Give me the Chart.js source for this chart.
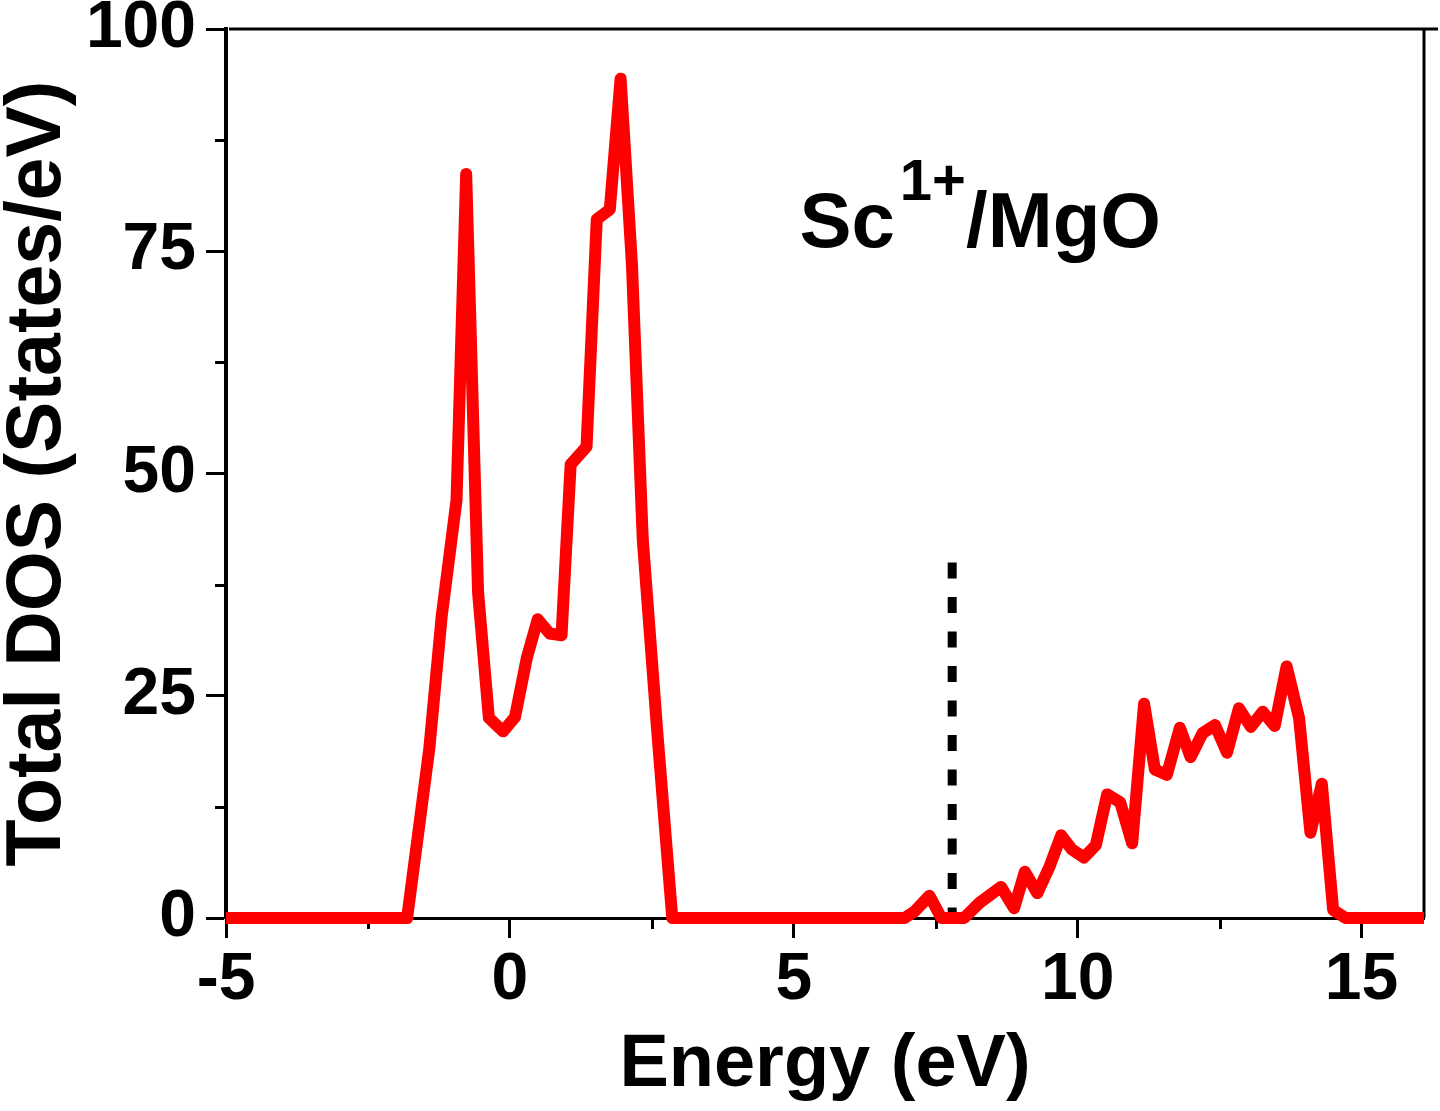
<!DOCTYPE html>
<html>
<head>
<meta charset="utf-8">
<title>Sc1+/MgO total DOS</title>
<script src="https://cdn.jsdelivr.net/npm/chart.js@4.4.1/dist/chart.umd.min.js"></script>
<style>
    html, body { margin: 0; padding: 0; background: #fff; }
    #dosChart { display: block; }
</style>
</head>
<body>
<canvas id="dosChart" width="1440" height="1111"></canvas>
<script>
// Total DOS curve (energy in eV, DOS in states/eV)
const dosEnergy = [-5, -1.81, -1.42, -1.2, -0.94, -0.77, -0.56, -0.37, -0.12, 0.09,
    0.30, 0.49, 0.70, 0.91, 1.07, 1.35, 1.53, 1.76, 1.95, 2.15,
    2.34, 2.6, 2.86, 6.95, 7.12, 7.39, 7.6, 8.0, 8.27, 8.65,
    8.88, 9.07, 9.29, 9.5, 9.71, 9.9, 10.11, 10.32, 10.52, 10.75,
    10.96, 11.17, 11.36, 11.57, 11.8, 11.99, 12.2, 12.42, 12.63, 12.84,
    13.05, 13.26, 13.47, 13.68, 13.9, 14.1, 14.3, 14.5, 14.72, 16.1];
const dosTotal = [0, 0, 19, 34, 47, 83.7, 36.6, 22.5, 21, 22.6,
    29.3, 33.6, 32, 31.8, 51, 53, 78.6, 79.7, 94.4, 73.5,
    42.6, 20.6, 0, 0, 0.7, 2.5, 0, 0, 1.7, 3.5,
    1.1, 5.2, 2.8, 5.7, 9.3, 7.7, 6.8, 8.2, 13.9, 13,
    8.4, 24.1, 16.7, 16.1, 21.4, 18.1, 20.8, 21.7, 18.6, 23.6,
    21.5, 23.2, 21.6, 28.3, 22.5, 9.6, 15.1, 0.9, 0, 0];

// Fermi level marker (dashed vertical line)
const fermiEnergy = [7.79, 7.79];
const fermiDos = [40, 0];

// Axis ticks
const xMajorTicks = [-5, 0, 5, 10, 15];
const xMinorTicks = [-2.5, 2.5, 7.5, 12.5];
const yMajorTicks = [0, 25, 50, 75, 100];
const yMinorTicks = [12.5, 37.5, 62.5, 87.5];

// In-plot label "Sc^1+/MgO", anchored at (energy, DOS) of its baseline start
const labelMain = 'Sc';
const labelSup = '1+';
const labelRest = '/MgO';
const labelAt = [5.1, 75.5];

const FONT = '"Liberation Sans", Arial, Helvetica, sans-serif';

/**
 * Minor ticks, top/right frame lines
 */
const framePlugin = {
    id: 'frame',
    beforeDatasetsDraw(chart) {
        const { ctx, chartArea: a, scales: { x, y } } = chart;
        ctx.save();
        ctx.strokeStyle = '#000';

        // top and right frame
        ctx.lineWidth = 3;
        ctx.beginPath();
        ctx.moveTo(a.left + 3, a.top);
        ctx.lineTo(a.right + 14, a.top);
        ctx.moveTo(a.right, a.top - 1);
        ctx.lineTo(a.right, a.bottom);
        ctx.stroke();

        // minor ticks, pointing outwards
        ctx.beginPath();
        xMinorTicks.forEach(v => {
            const px = Math.round(x.getPixelForValue(v)) + 0.5;
            ctx.moveTo(px, a.bottom);
            ctx.lineTo(px, a.bottom + 11);
        });
        yMinorTicks.forEach(v => {
            const py = Math.round(y.getPixelForValue(v)) + 0.5;
            ctx.moveTo(a.left, py);
            ctx.lineTo(a.left - 11, py);
        });
        ctx.stroke();
        ctx.restore();
    },
};

/**
 * Text label inside the plot
 */
const labelPlugin = {
    id: 'label',
    afterDatasetsDraw(chart) {
        const { ctx, scales: { x, y } } = chart;
        let px = x.getPixelForValue(labelAt[0]);
        const py = y.getPixelForValue(labelAt[1]);
        ctx.save();
        ctx.fillStyle = '#000';
        ctx.textBaseline = 'alphabetic';
        ctx.textAlign = 'left';

        ctx.font = `bold 78px ${FONT}`;
        ctx.fillText(labelMain, px, py);
        px += ctx.measureText(labelMain).width + 5;

        ctx.font = `bold 58px ${FONT}`;
        ctx.fillText(labelSup, px, py - 47);
        px += ctx.measureText(labelSup).width;

        ctx.font = `bold 78px ${FONT}`;
        ctx.fillText(labelRest, px, py);
        ctx.restore();
    },
};

// keep the plot box where the reference has it, whatever the label overflow
const noScalePadding = (scale) => {
    scale.paddingTop = 0;
    scale.paddingBottom = 0;
    scale.paddingLeft = 0;
    scale.paddingRight = 0;
};

const ctx = document.getElementById('dosChart');

new Chart(ctx, {
    type: 'scatter',
    data: {
        datasets: [{
            label: 'Total DOS',
            data: dosEnergy.map((e, i) => ({ x: e, y: dosTotal[i] })),
            showLine: true,
            borderColor: '#ff0000',
            borderWidth: 12,
            borderJoinStyle: 'round',
            pointRadius: 0,
            clip: { left: 0, top: 8, right: 0, bottom: 8 },
        }, {
            label: 'Fermi level',
            data: fermiEnergy.map((e, i) => ({ x: e, y: fermiDos[i] })),
            showLine: true,
            borderColor: '#000',
            borderWidth: 9,
            borderDash: [16, 18.5],
            borderCapStyle: 'butt',
            pointRadius: 0,
            clip: false,
        }],
    },
    options: {
        responsive: false,
        animation: false,
        layout: {
            padding: { top: 29, right: 16, left: 0, bottom: 0 },
        },
        elements: {
            line: { borderWidth: 12 },
        },
        scales: {
            x: {
                type: 'linear',
                min: -5,
                max: 16.1,
                afterFit: (scale) => {
                    scale.height = 193;
                    noScalePadding(scale);
                },
                afterBuildTicks: (scale) => {
                    scale.ticks = xMajorTicks.map(v => ({ value: v }));
                },
                border: { color: '#000', width: 3 },
                grid: {
                    drawOnChartArea: false,
                    drawTicks: true,
                    tickLength: 20,
                    tickWidth: 3,
                    tickColor: '#000',
                },
                ticks: {
                    color: '#000',
                    padding: 3,
                    autoSkip: false,
                    maxRotation: 0,
                    font: { family: FONT, size: 66, weight: 'bold' },
                    callback: (value) => String(value),
                },
                title: {
                    display: true,
                    text: 'Energy (eV)',
                    color: '#000',
                    padding: { top: 0, bottom: 8 },
                    font: { family: FONT, size: 74, weight: 'bold', lineHeight: 1 },
                },
            },
            y: {
                type: 'linear',
                min: 0,
                max: 100,
                afterFit: (scale) => {
                    scale.width = 226;
                    noScalePadding(scale);
                },
                afterBuildTicks: (scale) => {
                    scale.ticks = yMajorTicks.map(v => ({ value: v }));
                },
                border: { color: '#000', width: 4 },
                grid: {
                    drawOnChartArea: false,
                    drawTicks: true,
                    tickLength: 20,
                    tickWidth: 3,
                    tickColor: '#000',
                },
                ticks: {
                    color: '#000',
                    padding: 10,
                    autoSkip: false,
                    font: { family: FONT, size: 66, weight: 'bold' },
                    callback: (value) => String(value),
                },
                title: {
                    display: true,
                    text: 'Total DOS (States/eV)',
                    color: '#000',
                    padding: { top: 0, bottom: 0 },
                    font: { family: FONT, size: 77, weight: 'bold', lineHeight: 1 },
                },
            },
        },
        plugins: {
            legend: { display: false },
            tooltip: { enabled: false },
        },
    },
    plugins: [framePlugin, labelPlugin],
});
</script>
</body>
</html>
